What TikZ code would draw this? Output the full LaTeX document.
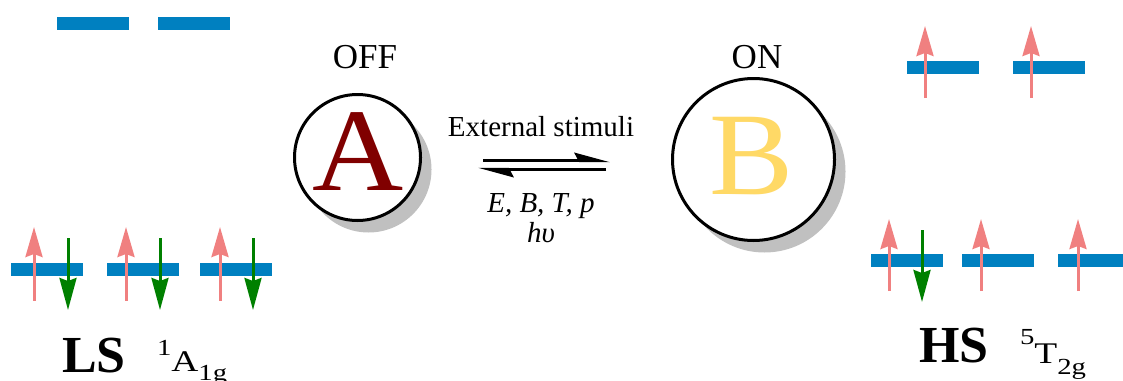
\documentclass[tikz,border=0pt]{standalone}
\usepackage{fontspec}
\setmainfont{Liberation Serif}
\usetikzlibrary{arrows.meta,shadows}

\definecolor{orbblue}{HTML}{0080C0}
\definecolor{spinpink}{HTML}{F08080}
\definecolor{spingreen}{HTML}{008000}
\definecolor{letterred}{HTML}{800000}
\definecolor{letteryellow}{HTML}{FFD966}
\definecolor{shadowgray}{HTML}{C0C0C0}

\newcommand{\fsz}[1]{\fontsize{#1}{#1}\selectfont}
% term symbol: superscript, main letter, subscript (set a little wide)
\newcommand{\termsym}[5]{\scalebox{1.25}[1]{\fsz{30}\raisebox{#4pt}{\fsz{23}#1}#2\raisebox{-#5pt}{\fsz{23}#3}}}

\begin{document}
\begin{tikzpicture}[x=1pt,y=-1pt,
  orbital/.style={fill=orbblue,draw=none,minimum width=72pt,minimum height=13pt,inner sep=0pt},
  spinup/.style={draw=spinpink,line width=3pt,-{Stealth[length=30pt,width=17pt,inset=3pt]}},
  spindown/.style={draw=spingreen,line width=3pt,-{Stealth[length=32pt,width=17pt,inset=3pt]}},
  state/.style={circle,draw=black,line width=3pt,fill=white,inner sep=0pt,
    drop shadow={shadow xshift=11pt,shadow yshift=-12pt,fill=shadowgray,opacity=1}},
  txt/.style={inner sep=0pt,outer sep=0pt},
  eqarrow/.style={line width=3pt,-{Stealth[harpoon,length=30pt,width=16pt,inset=4pt]}}
]
\useasboundingbox (0,0) rectangle (1123,380);

% ---- low-spin configuration (left) ----
\node[orbital] (lse1) at (93,23.5) {};
\node[orbital] (lse2) at (194,23.5) {};
\node[orbital] (lst1) at (47,269.5) {};
\node[orbital] (lst2) at (143,269.5) {};
\node[orbital] (lst3) at (236,269.5) {};
\draw[spinup] (34,300.7) -- (34,227);
\draw[spindown] (68,238) -- (68,310);
\draw[spinup] (126,300.7) -- (126,227);
\draw[spindown] (160,238) -- (160,310);
\draw[spinup] (220,300.7) -- (220,227);
\draw[spindown] (253,238) -- (253,310);

\node[txt,anchor=base west] (ls) at (62,372) {\fsz{52}\bfseries LS};
\node[txt,anchor=base west] (lsterm) at (157,371) {\termsym{1}{A}{1g}{16}{9}};

% ---- high-spin configuration (right) ----
\node[orbital] (hse1) at (943,67.5) {};
\node[orbital] (hse2) at (1049,67.5) {};
\node[orbital] (hst1) at (907,260.5) {};
\node[orbital] (hst2) at (998,260.5) {};
\node[orbital] (hst3) at (1094,260.5) {};
\draw[spinup] (925,98) -- (925,26);
\draw[spinup] (1031,98) -- (1031,26);
\draw[spinup] (889,291) -- (889,219);
\draw[spindown] (922,230) -- (922,302);
\draw[spinup] (981,291) -- (981,219);
\draw[spinup] (1078,291) -- (1078,219);

\node[txt,anchor=base west] (hs) at (919,362) {\fsz{52}\bfseries HS};
\node[txt,anchor=base west] (hsterm) at (1020,363) {\termsym{5}{T}{2g}{19}{11}};

% ---- switchable states ----
\node[state,minimum size=126pt] (sa) at (357.5,157.5) {};
\node[state,minimum size=162pt] (sb) at (753.5,159.5) {};
\node[txt,anchor=base,text=letterred] (la) at (358.5,190) {\scalebox{1.07}[1]{\fsz{118}A}};
\node[txt,anchor=base,text=letteryellow] (lb) at (752,194) {\scalebox{1.07}[1]{\fsz{118}B}};
\node[txt,anchor=base] (off) at (365,68) {\fsz{35}OFF};
\node[txt,anchor=base] (on) at (757,68) {\fsz{35}ON};

% ---- stimulus arrows ----
\coordinate (fws) at (483,160.7);
\coordinate (fwe) at (610,160.7);
\coordinate (bws) at (606,169.3);
\coordinate (bwe) at (478,169.3);
\draw[eqarrow] (fws) -- (fwe);
\draw[eqarrow] (bws) -- (bwe);
\node[txt,anchor=base] (stim) at (541,136.7) {\fsz{29}External stimuli};
\node[txt,anchor=base] (fields) at (541,212) {\fsz{29}\itshape E, B, T, p};
\node[txt,anchor=base] (light) at (541,242) {\fsz{29}\itshape hυ};
\end{tikzpicture}
\end{document}
